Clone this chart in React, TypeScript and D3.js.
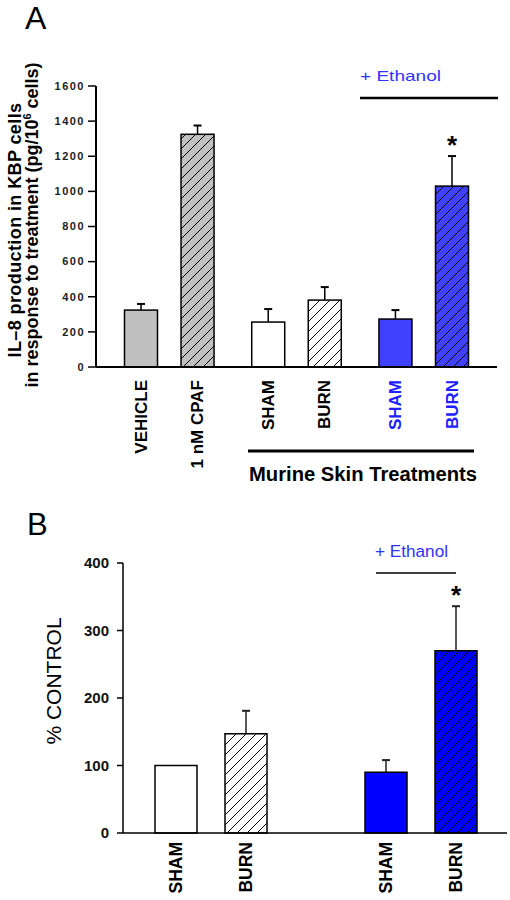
import React from "react";
import * as d3 from "d3";

// ---------- Data ----------
const catsA = ["VEHICLE", "1 nM CPAF", "SHAM", "BURN", "SHAM", "BURN"];
const slotA = [0, 1, 2.25, 3.25, 4.5, 5.5];
const meanA = [324, 1325, 256, 381, 273, 1030];
const errA = [35, 50, 74, 74, 51, 171];
const fillA = ["grey", "greyHatch", "white", "whiteHatch", "blueA", "blueAHatch"];
const labelColorA = ["#000", "#000", "#000", "#000", "#2020ff", "#2020ff"];
const ticksA = [0, 200, 400, 600, 800, 1000, 1200, 1400, 1600];

const catsB = ["SHAM", "BURN", "SHAM", "BURN"];
const slotB = [0, 1, 3, 4];
const meanB = [100, 147, 90, 270];
const errB = [0, 34, 18, 66];
const fillB = ["white", "whiteHatch", "blueB", "blueBHatch"];
const ticksB = [0, 100, 200, 300, 400];

const FONT = "'Liberation Sans', Arial, Helvetica, sans-serif";

const fills: Record<string, string> = {
  grey: "#c0c0c0",
  greyHatch: "url(#hGrey)",
  white: "#ffffff",
  whiteHatch: "url(#hWhite)",
  blueA: "#4040ff",
  blueAHatch: "url(#hBlueA)",
  blueB: "#0000ff",
  blueBHatch: "url(#hBlueB)",
};

function Hatch({ id, bg }: { id: string; bg: string }) {
  return (
    <pattern id={id} patternUnits="userSpaceOnUse" width={10} height={10}>
      <rect width={10} height={10} fill={bg} />
      <path d="M-1,11 L11,-1 M-6,6 L6,-6 M4,16 L16,4" stroke="#000" strokeWidth={1} />
    </pattern>
  );
}

export default function App() {
  // Panel A scales
  const yA = d3.scaleLinear().domain([0, 1600]).range([367, 86]);
  const xA = d3.scaleLinear().domain([0, 5.5]).range([141, 452]);
  const bwA = 33;
  const axisAx = 96;

  // Panel B scales
  const yB = d3.scaleLinear().domain([0, 400]).range([833, 563]);
  const xB = d3.scaleLinear().domain([0, 4]).range([176, 456]);
  const bwB = 42;
  const axisBx = 123;

  return (
    <svg
      width={510}
      height={900}
      style={{ position: "absolute", left: 0, top: 0, background: "#fff" }}
      fontFamily={FONT}
    >
      <defs>
        <Hatch id="hGrey" bg="#c0c0c0" />
        <Hatch id="hWhite" bg="#ffffff" />
        <Hatch id="hBlueA" bg="#4040ff" />
        <Hatch id="hBlueB" bg="#0000ff" />
      </defs>
      <rect width={510} height={900} fill="#fff" />

      {/* ================= Panel A ================= */}
      <text x={25} y={29} fontSize={32} fill="#000">A</text>

      {/* y label */}
      <text
        transform="translate(21,230) rotate(-90)"
        textAnchor="middle"
        fontSize={18}
        fontWeight="bold"
        letterSpacing={0.4}
      >
        IL–8 production in KBP cells
      </text>
      <text
        transform="translate(38,225) rotate(-90)"
        textAnchor="middle"
        fontSize={18}
        fontWeight="bold"
      >
        in response to treatment (pg/10
        <tspan fontSize={11} dy={-7}>6</tspan>
        <tspan dy={7}> cells)</tspan>
      </text>

      {/* y axis */}
      <line x1={axisAx} x2={axisAx} y1={yA(1600)} y2={yA(0)} stroke="#000" strokeWidth={2} />
      {ticksA.map((t) => (
        <g key={"ta" + t}>
          <line x1={axisAx - 8} x2={axisAx} y1={yA(t)} y2={yA(t)} stroke="#000" strokeWidth={1.5} />
          <text
            x={85}
            y={yA(t)}
            dy="0.35em"
            textAnchor="end"
            fontSize={11}
            fontWeight="bold"
            letterSpacing={1.5}
            fill="#222"
          >
            {t}
          </text>
        </g>
      ))}

      {/* bars A */}
      {catsA.map((c, i) => {
        const cx = xA(slotA[i]);
        const top = yA(meanA[i]);
        const et = yA(meanA[i] + errA[i]);
        return (
          <g key={"ba" + i}>
            <line x1={cx} x2={cx} y1={top} y2={et} stroke="#000" strokeWidth={1.5} />
            <line x1={cx - 4} x2={cx + 4} y1={et} y2={et} stroke="#000" strokeWidth={2} />
            <rect
              x={cx - bwA / 2}
              y={top}
              width={bwA}
              height={yA(0) - top}
              fill={fills[fillA[i]]}
              stroke="#000"
              strokeWidth={1.5}
            />
            <text
              transform={`translate(${cx},380) rotate(-90)`}
              textAnchor="end"
              dominantBaseline="central"
              fontSize={17}
              fontWeight="bold"
              fill={labelColorA[i]}
            >
              {c}
            </text>
          </g>
        );
      })}

      {/* x axis A */}
      <line x1={axisAx} x2={497} y1={yA(0)} y2={yA(0)} stroke="#000" strokeWidth={2} />

      {/* ethanol marker A */}
      <text x={360} y={81} fontSize={15} fill="#3333ff" textLength={81} lengthAdjust="spacingAndGlyphs">
        + Ethanol
      </text>
      <line x1={360} x2={498} y1={98} y2={98} stroke="#000" strokeWidth={2.5} />
      <text x={xA(5.5)} y={154} textAnchor="middle" fontSize={26} fontWeight="bold" fill="#000">
        *
      </text>

      {/* murine skin treatments */}
      <line x1={248} x2={474} y1={451} y2={451} stroke="#000" strokeWidth={3} />
      <text x={249} y={481} fontSize={20} fontWeight="bold" textLength={228} lengthAdjust="spacingAndGlyphs">
        Murine Skin Treatments
      </text>

      {/* ================= Panel B ================= */}
      <text x={27} y={535} fontSize={31} fill="#000">B</text>

      <text
        transform="translate(61,681) rotate(-90)"
        textAnchor="middle"
        fontSize={21}
        fill="#000"
      >
        % CONTROL
      </text>

      <line x1={axisBx} x2={axisBx} y1={yB(400)} y2={yB(0)} stroke="#000" strokeWidth={1.5} />
      {ticksB.map((t) => (
        <g key={"tb" + t}>
          <line x1={axisBx - 6} x2={axisBx} y1={yB(t)} y2={yB(t)} stroke="#000" strokeWidth={1.5} />
          <text
            x={109}
            y={yB(t)}
            dy="0.35em"
            textAnchor="end"
            fontSize={15}
            fontWeight="bold"
            fill="#111"
          >
            {t}
          </text>
        </g>
      ))}

      {catsB.map((c, i) => {
        const cx = xB(slotB[i]);
        const top = yB(meanB[i]);
        const et = yB(meanB[i] + errB[i]);
        return (
          <g key={"bb" + i}>
            {errB[i] > 0 && (
              <>
                <line x1={cx} x2={cx} y1={top} y2={et} stroke="#222" strokeWidth={1.5} />
                <line x1={cx - 4} x2={cx + 4} y1={et} y2={et} stroke="#222" strokeWidth={2} />
              </>
            )}
            <rect
              x={cx - bwB / 2}
              y={top}
              width={bwB}
              height={yB(0) - top}
              fill={fills[fillB[i]]}
              stroke="#000"
              strokeWidth={1.5}
            />
            <text
              transform={`translate(${cx},842) rotate(-90)`}
              textAnchor="end"
              dominantBaseline="central"
              fontSize={17.5}
              fontWeight="bold"
              fill="#000"
            >
              {c}
            </text>
          </g>
        );
      })}

      <line x1={axisBx} x2={507} y1={yB(0)} y2={yB(0)} stroke="#000" strokeWidth={1.5} />

      <text x={375} y={557} fontSize={16} fill="#3030ff" textLength={73} lengthAdjust="spacingAndGlyphs">
        + Ethanol
      </text>
      <line x1={376} x2={456} y1={573} y2={573} stroke="#000" strokeWidth={1.5} />
      <text x={xB(4)} y={604} textAnchor="middle" fontSize={26} fontWeight="bold" fill="#000">
        *
      </text>
    </svg>
  );
}
